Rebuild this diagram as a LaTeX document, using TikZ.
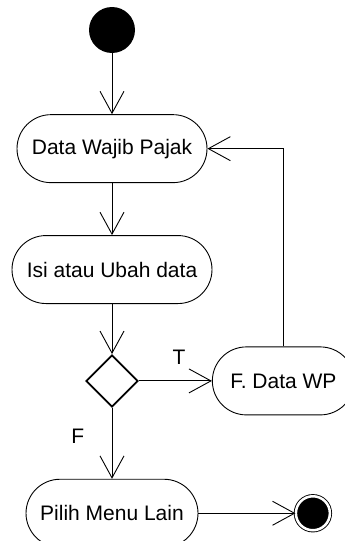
\documentclass[tikz,border=0pt]{standalone}
\usepackage{fontspec}
\setmainfont{Liberation Sans}
\usetikzlibrary{arrows.meta,shapes.geometric,positioning}
\tikzset{
    %Define standard arrow tip
    >={Straight Barb[length=22pt,width=24pt]},
    %Define style for activities
    activity/.style={
           rectangle,
           rounded corners=34pt,
           draw=black, line width=0.9pt,
           minimum height=68pt,
           font=\fontsize{21}{25}\selectfont,
           text centered},
    initial/.style={
           circle,
           fill=black,
           minimum size=46pt,
           inner sep=0pt},
    final/.style={
           circle,
           draw=black, line width=0.9pt,
           fill=black,
           double=white, double distance=2.5pt,
           minimum size=34pt,
           inner sep=0pt},
    decision/.style={
           diamond,
           draw=black, line width=1.8pt,
           minimum width=52pt,
           minimum height=52pt,
           inner sep=0pt},
    lbl/.style={
           font=\fontsize{21}{25}\selectfont},
    % Define arrow style
    pil/.style={
           ->,
           line width=0.9pt}
}
\begin{document}
\begin{tikzpicture}[x=1pt,y=1pt]
\useasboundingbox (0,0) rectangle (345,-541);
\node[initial] (start) at (112,-30) {};
\node[activity, minimum width=190pt, below=61pt of start] (dwp) {Data Wajib Pajak};
\node[activity, minimum width=200pt, below=52pt of dwp] (isi) {Isi atau Ubah data};
\node[decision, below=50pt of isi] (cek) {};
\node[activity, minimum width=142pt, right=73pt of cek] (fwp) {F. Data WP};
\node[activity, minimum width=172pt, below=71pt of cek] (pml) {Pilih Menu Lain};
\node[final, right=97pt of pml] (end) {};
 \path[pil]
    (start) edge (dwp)
    (dwp) edge (isi)
    (isi) edge (cek)
    (cek) edge node[lbl, above=13pt, pos=0.55] {T} (fwp)
    (cek) edge node[lbl, left=24pt, pos=0.4] {F} (pml)
    (pml) edge (end);
\draw[pil] (fwp) |- (dwp);
\end{tikzpicture}
\end{document}
